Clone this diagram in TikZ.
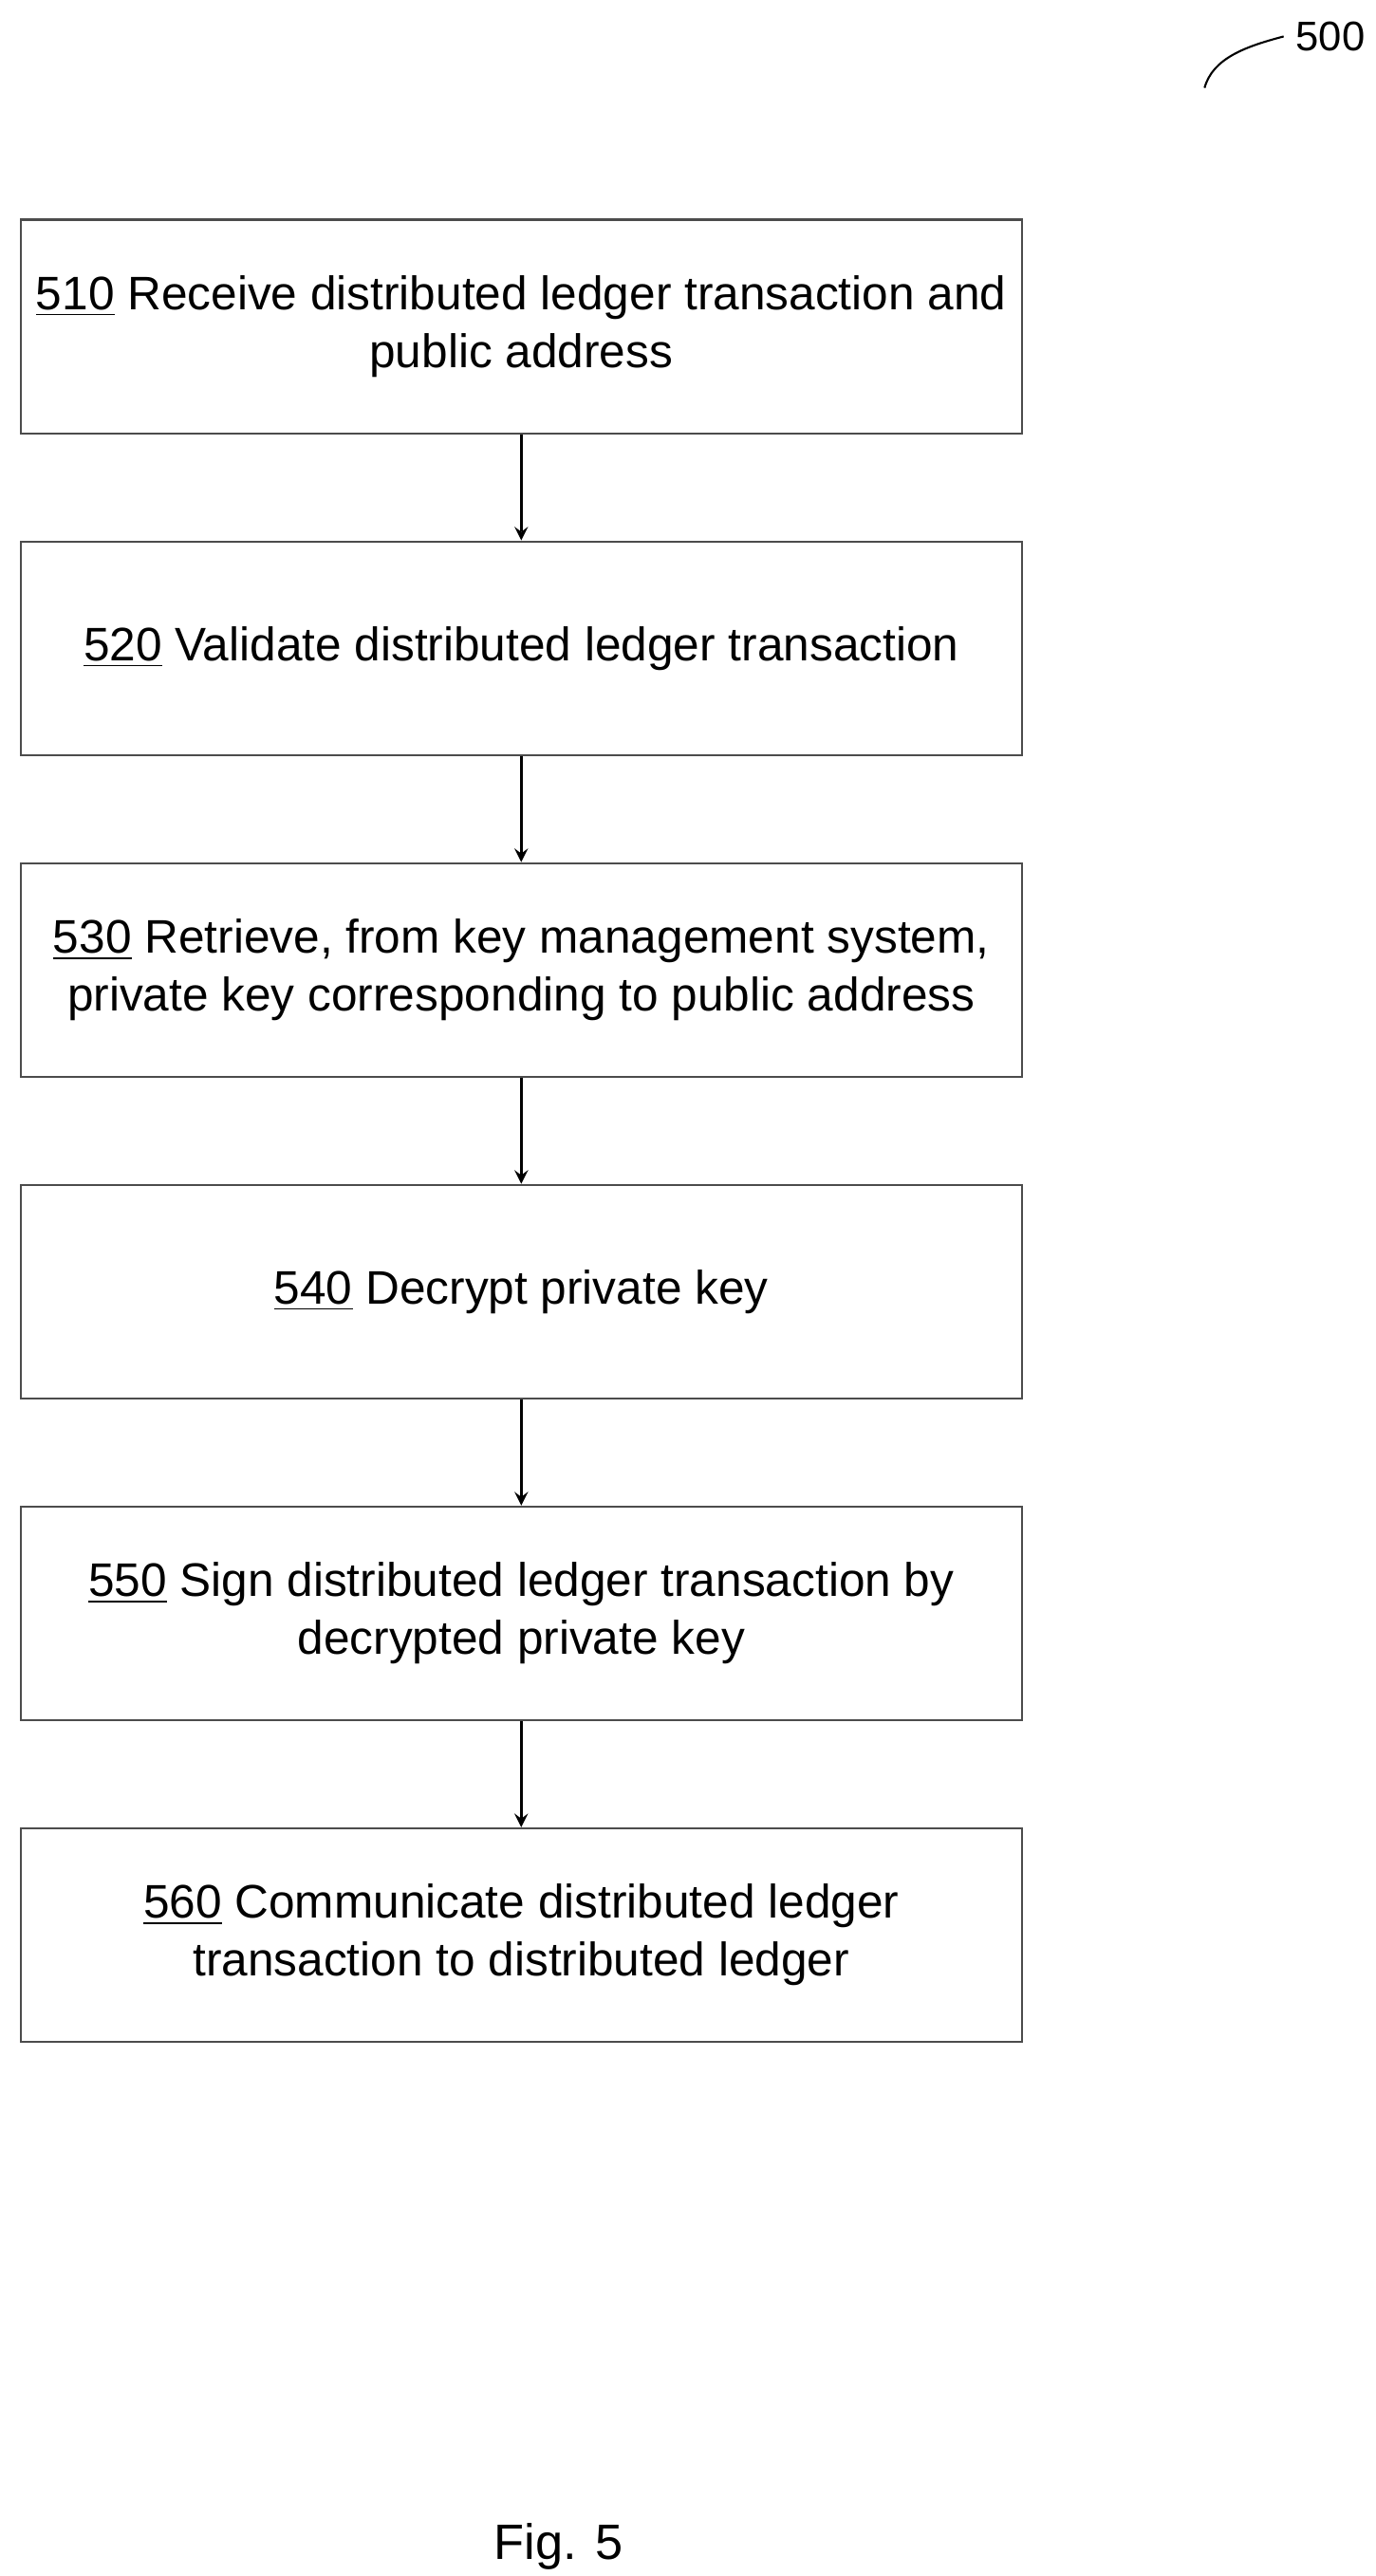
\documentclass[tikz,border=0pt]{standalone}
\usepackage{fontspec}
\setmainfont{Liberation Sans}
\usetikzlibrary{positioning}
\tikzset{every picture/.style={line width=0.75pt}}
\tikzset{stepbox/.style={draw=black!70,line width=0.6pt,minimum width=302pt,minimum height=64.5pt,align=center,inner sep=0pt,font=\fontsize{14.2}{17.5}\selectfont},
flow/.style={->,>=stealth,line width=0.8pt}}

\begin{document}
\begin{tikzpicture}[x=0.5pt,y=0.5pt,yscale=-1,xscale=1]
\useasboundingbox (0,0) rectangle (830,1555);

% Steps
\node[stepbox,anchor=north west] (s510) at (12,132) {\underline{510} Receive distributed ledger transaction and\\public address};
\node[stepbox,below=32pt of s510] (s520) {\underline{520} Validate distributed ledger transaction};
\node[stepbox,below=32pt of s520] (s530) {\underline{530} Retrieve, from key management system,\\private key corresponding to public address};
\node[stepbox,below=32pt of s530] (s540) {\underline{540} Decrypt private key};
\node[stepbox,below=32pt of s540] (s550) {\underline{550} Sign distributed ledger transaction by\\decrypted private key};
\node[stepbox,below=32pt of s550] (s560) {\underline{560} Communicate distributed ledger\\transaction to distributed ledger};

% Arrows
\draw[flow] (s510) -- (s520);
\draw[flow] (s520) -- (s530);
\draw[flow] (s530) -- (s540);
\draw[flow] (s540) -- (s550);
\draw[flow] (s550) -- (s560);

% Reference label
\node[font=\fontsize{12.5}{15}\selectfont] (ref) at (803,22) {500};
\draw[line width=0.6pt] (727,53) .. controls (732,35) and (752,28) .. (ref.west);

% Caption
\node[font=\fontsize{15}{18}\selectfont] (fig) at (337,1537) {Fig. 5};
\end{tikzpicture}
\end{document}
